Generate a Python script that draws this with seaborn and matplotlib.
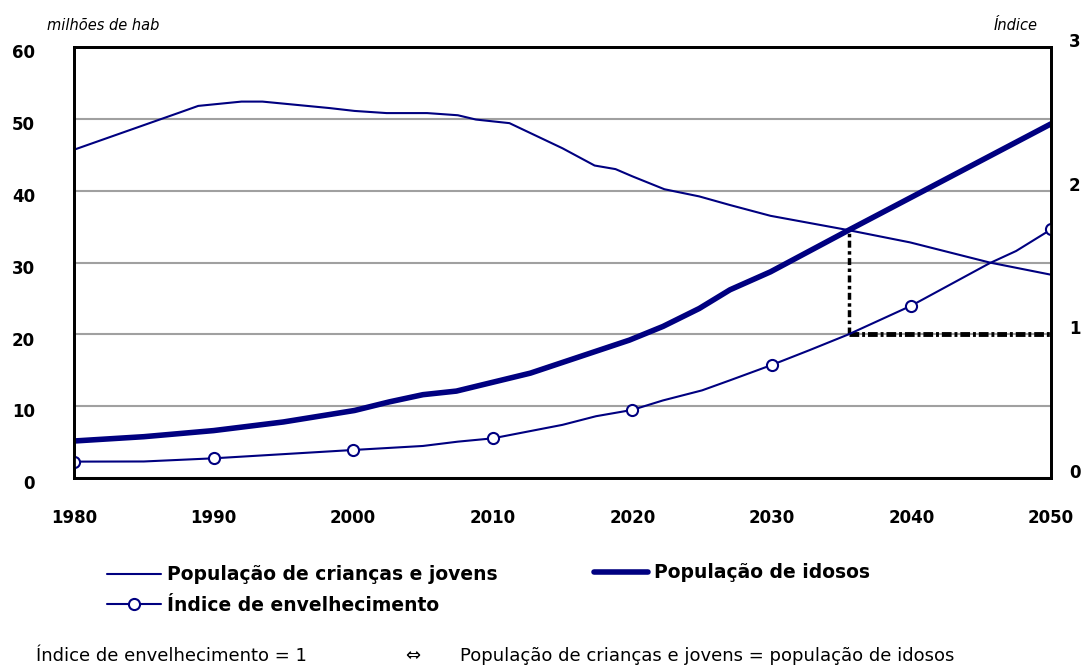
import matplotlib
matplotlib.use('Agg')
import matplotlib.pyplot as plt
import matplotlib.transforms as mtransforms
from matplotlib.lines import Line2D
import seaborn as sns

# População de crianças e jovens (milhões de hab)
anos_jovens = [1980, 1987.6, 1988.9, 1992, 1993.5, 1998.3, 2000.1, 2002.4, 2005.3, 2007.5,
               2008.8, 2011.2, 2015.0, 2017.3, 2018.8, 2020.0, 2022.3, 2024.8, 2027.0, 2029.9,
               2035.5, 2039.9, 2045.6, 2050]
pop_jovens = [45.7, 50.9, 51.8, 52.4, 52.4, 51.5, 51.1, 50.8, 50.8, 50.5,
              49.9, 49.4, 45.9, 43.5, 43.0, 42.0, 40.2, 39.2, 38.0, 36.5,
              34.5, 32.8, 30.0, 28.3]

# População de idosos (milhões de hab)
anos_idosos = [1980, 1985, 1990, 1995, 2000.1, 2002.6, 2005.0, 2007.4, 2012.7, 2019.8,
               2022.2, 2024.8, 2027.0, 2029.9, 2035.5, 2040.6, 2050]
pop_idosos = [5.15, 5.75, 6.6, 7.8, 9.4, 10.6, 11.6, 12.1, 14.6, 19.2,
              21.1, 23.6, 26.2, 28.7, 34.5, 39.7, 49.3]

# Índice de envelhecimento
anos_indice = [1980, 1985, 1990, 2000, 2005, 2007.5, 2010, 2015, 2017.4, 2020,
               2022.2, 2025, 2027, 2030, 2032.7, 2035.5, 2040, 2045.6, 2047.5, 2050]
indice = [0.114, 0.115, 0.137, 0.195, 0.223, 0.253, 0.276, 0.37, 0.43, 0.474,
          0.54, 0.61, 0.68, 0.787, 0.89, 1.0, 1.2, 1.495, 1.58, 1.73]

# ponto onde o índice = 1 (jovens = idosos)
ano_cruzamento = 2035.5
indice_cruzamento = 1.0
escala = 20  # 1 unidade do índice = 20 milhões no eixo da esquerda

anos_ticks = list(range(1980, 2051, 10))
pop_ticks = list(range(0, 61, 10))
indice_ticks = [0, 1, 2, 3]

azul = '#000080'

sns.set_style('white')
plt.rcParams['font.family'] = ['DejaVu Sans']
plt.rcParams['text.color'] = 'black'
plt.rcParams['xtick.color'] = 'black'
plt.rcParams['ytick.color'] = 'black'

W, H = 1085, 665
fig = plt.figure(figsize=(W / 100, H / 100), dpi=100)
ax = fig.add_axes([74 / W, 1 - 478 / H, (1051 - 74) / W, (478 - 47) / H])
ax2 = ax.twinx()

ax.yaxis.grid(True, color='#a0a0a0', lw=1.5)
ax.set_axisbelow(True)

sns.lineplot(x=anos_jovens, y=pop_jovens, ax=ax, color=azul, lw=1.5, estimator=None)
sns.lineplot(x=anos_idosos, y=pop_idosos, ax=ax, color=azul, lw=4, estimator=None)

marcas = [i for i, a in enumerate(anos_indice) if a % 10 == 0]
sns.lineplot(x=anos_indice, y=indice, ax=ax2, color=azul, lw=1.5, estimator=None,
             marker='o', markevery=marcas, markersize=8, markerfacecolor='white',
             markeredgecolor=azul, markeredgewidth=1.5)

# linhas pontilhadas no cruzamento
pop_cruz_indice = pop_jovens[anos_jovens.index(ano_cruzamento)] / escala
ax2.plot([ano_cruzamento, ano_cruzamento], [indice_cruzamento, pop_cruz_indice],
         color='black', lw=2.5, ls=(0, (2, 1, 1, 1)), zorder=1)
ax2.plot([ano_cruzamento, anos_ticks[-1]], [indice_cruzamento, indice_cruzamento],
         color='black', lw=3.5, ls=(0, (2, 0.6, 0.6, 0.6)), zorder=1)

ax.set_xlim(anos_ticks[0], anos_ticks[-1])
ax.set_ylim(pop_ticks[0], pop_ticks[-1])
ax2.set_ylim(indice_ticks[0], indice_ticks[-1])
ax.set_xticks(anos_ticks)
ax.set_yticks(pop_ticks)
ax2.set_yticks(indice_ticks)
ax.set_xlabel('')
ax.set_ylabel('')

for a in (ax, ax2):
    for s in a.spines.values():
        s.set_visible(True)
        s.set_color('black')
        s.set_linewidth(2)

ax.tick_params(axis='x', length=0, pad=22, labelsize=12)
ax.tick_params(axis='y', length=0, pad=28, labelsize=12)
ax2.tick_params(axis='y', length=0, pad=13, labelsize=12)
for lab in ax.get_xticklabels() + ax.get_yticklabels() + ax2.get_yticklabels():
    lab.set_fontweight('bold')
desloc = mtransforms.ScaledTranslation(0, 5 / 72, fig.dpi_scale_trans)
for lab in ax2.get_yticklabels():
    lab.set_transform(lab.get_transform() + desloc)
desloc_esq = mtransforms.ScaledTranslation(0, -3 / 72, fig.dpi_scale_trans)
for lab in ax.get_yticklabels():
    lab.set_transform(lab.get_transform() + desloc_esq)

fig.text(47 / W, 1 - 26 / H, 'milhões de hab', style='italic', fontsize=10.5, va='center')
fig.text(1038 / W, 1 - 25 / H, 'Índice', style='italic', fontsize=10.5, va='center', ha='right')

# legenda
h_jovens = Line2D([], [], color=azul, lw=1.5)
h_idosos = Line2D([], [], color=azul, lw=4)
h_indice = Line2D([], [], color=azul, lw=1.5, marker='o', markersize=8,
                  markerfacecolor='white', markeredgecolor=azul, markeredgewidth=1.5)
leg_font = dict(weight='bold', size=13.5)
fig.legend([h_jovens, h_indice], ['População de crianças e jovens', 'Índice de envelhecimento'],
           loc='center left', bbox_to_anchor=(107 / W, 1 - 590 / H), frameon=False,
           prop=leg_font, handlelength=2.9, handletextpad=0.3, labelspacing=0.6,
           borderpad=0, borderaxespad=0)
fig.legend([h_idosos], ['População de idosos'],
           loc='center left', bbox_to_anchor=(594 / W, 1 - 573 / H), frameon=False,
           prop=leg_font, handlelength=2.9, handletextpad=0.3,
           borderpad=0, borderaxespad=0)

# nota de rodapé
fig.text(36 / W, 1 - 656 / H, 'Índice de envelhecimento = 1', fontsize=13, va='center')
fig.text(413 / W, 1 - 656 / H, '⇔', fontsize=13, va='center', ha='center')
fig.text(460 / W, 1 - 656 / H, 'População de crianças e jovens = população de idosos',
         fontsize=13, va='center')

fig.savefig('out.png', dpi=100)
